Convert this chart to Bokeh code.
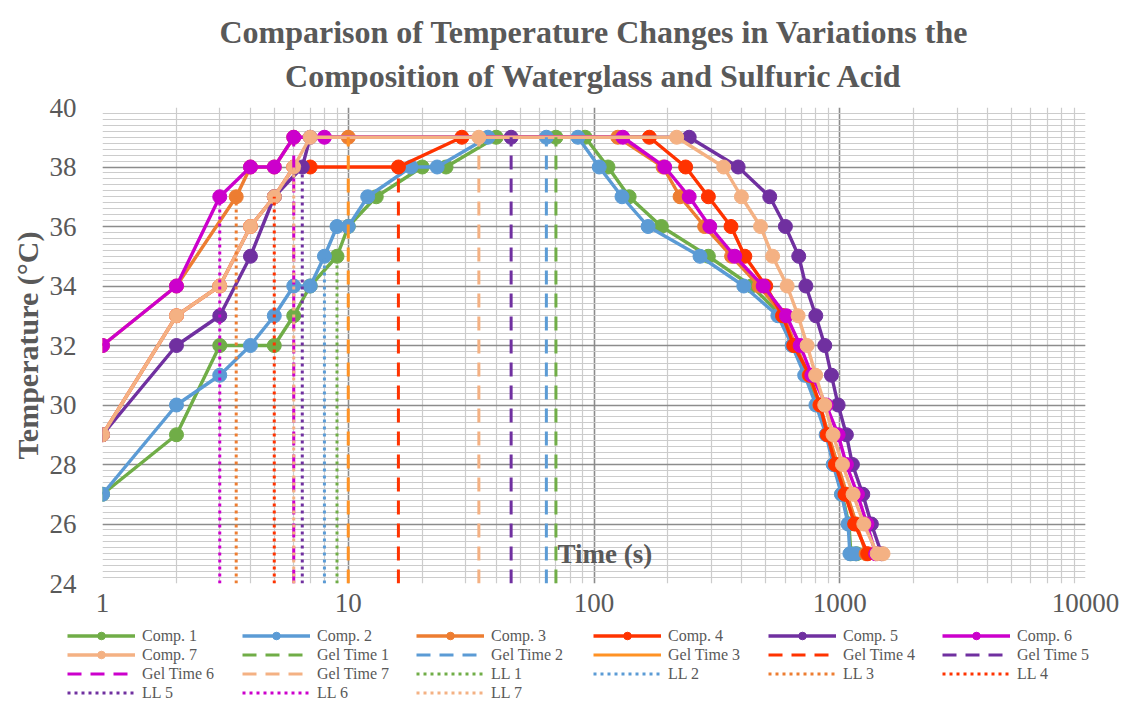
from bokeh.plotting import figure
from bokeh.models import FixedTicker, Legend, LegendItem, Label, Title, PrintfTickFormatter
from bokeh.embed import file_html
from bokeh.resources import INLINE

# ---------------- data ----------------
comp_names = ["Comp. 1", "Comp. 2", "Comp. 3", "Comp. 4", "Comp. 5", "Comp. 6", "Comp. 7"]

comp1_t = [1, 2, 3, 5, 6, 7, 9, 10, 13, 20, 25, 40, 70, 92, 114, 139, 188, 292, 437, 580, 660, 740, 820, 890, 950, 1020, 1090, 1110, 1170]
comp1_T = [27, 29, 32, 32, 33, 34, 35, 36, 37, 38, 38, 39, 39, 39, 38, 37, 36, 35, 34, 33, 32, 31, 30, 29, 28, 27, 26, 25, 25]

comp2_t = [1, 2, 3, 4, 5, 6, 7, 8, 9, 10, 12, 18, 23, 37, 64, 86, 105, 130, 166, 270, 407, 560, 640, 720, 800, 880, 940, 1016, 1081, 1100, 1160]
comp2_T = [27, 30, 31, 32, 33, 34, 34, 35, 36, 36, 37, 38, 38, 39, 39, 39, 38, 37, 36, 35, 34, 33, 32, 31, 30, 29, 28, 27, 26, 25, 25]

comp3_t = [1, 2, 3.5, 4, 5, 6, 10, 125, 191, 224, 282, 363, 470, 590, 660, 750, 830, 900, 980, 1070, 1170, 1280]
comp3_T = [32, 34, 37, 38, 38, 39, 39, 39, 38, 37, 36, 35, 34, 33, 32, 31, 30, 29, 28, 27, 26, 25]

comp4_t = [1, 2, 3, 4, 5, 6, 7, 16, 29, 168, 236, 292, 361, 411, 500, 585, 650, 754, 832, 889, 960, 1050, 1150, 1300]
comp4_T = [29, 33, 34, 36, 37, 38, 38, 38, 39, 39, 38, 37, 36, 35, 34, 33, 32, 31, 30, 29, 28, 27, 26, 25]

comp5_t = [1, 2, 3, 4, 5, 6.5, 7, 46, 244, 386, 519, 601, 681, 728, 799, 869, 925, 985, 1064, 1126, 1241, 1345, 1480]
comp5_T = [29, 32, 33, 35, 37, 38, 39, 39, 39, 38, 37, 36, 35, 34, 33, 32, 31, 30, 29, 28, 27, 26, 25]

comp6_t = [1, 2, 3, 4, 5, 6, 8, 131, 194, 244, 296, 374, 488, 607, 690, 770, 880, 985, 1064, 1180, 1290, 1400]
comp6_T = [32, 34, 37, 38, 38, 39, 39, 39, 38, 37, 36, 35, 34, 33, 32, 31, 30, 29, 28, 27, 26, 25]

comp7_t = [1, 2, 3, 4, 5, 6, 7, 34, 217, 337, 398, 476, 533, 611, 677, 737, 798, 869, 939, 1026, 1133, 1253, 1420, 1500]
comp7_T = [29, 33, 34, 36, 37, 38, 39, 39, 39, 38, 37, 36, 35, 34, 33, 32, 31, 30, 29, 28, 27, 26, 25, 25]

comp_t = [comp1_t, comp2_t, comp3_t, comp4_t, comp5_t, comp6_t, comp7_t]
comp_T = [comp1_T, comp2_T, comp3_T, comp4_T, comp5_T, comp6_T, comp7_T]

gel_names = ["Gel Time 1", "Gel Time 2", "Gel Time 3", "Gel Time 4", "Gel Time 5", "Gel Time 6", "Gel Time 7"]
gel_time = [70, 64, 10, 16, 46, 6, 34]
gel_top = [39, 39, 39, 38, 39, 39, 39]

ll_names = ["LL 1", "LL 2", "LL 3", "LL 4", "LL 5", "LL 6", "LL 7"]
ll_time = [9, 8, 3.5, 5, 6.5, 3, 6]
ll_top = [35, 35, 37, 37, 38, 37, 38]

x_ticks = [1, 10, 100, 1000, 10000]
y_ticks = [24, 26, 28, 30, 32, 34, 36, 38, 40]
y_min, y_max = 24, 40

title_lines = ["Comparison of Temperature Changes in Variations the",
               "Composition of Waterglass and Sulfuric Acid"]
x_title = "Time (s)"
y_title = "Temperature (°C)"

# ---------------- styles ----------------
comp_colors = ["#70AD47", "#5B9BD5", "#ED7D31", "#FF3300", "#7030A0", "#CC00CC", "#F4B183"]
gel_colors = ["#70AD47", "#5B9BD5", "#FF9224", "#FF3300", "#7030A0", "#CC00CC", "#F4B183"]
ll_colors = ["#70AD47", "#5B9BD5", "#ED7D31", "#FF3300", "#7030A0", "#CC00CC", "#F4B183"]
TEXT = "#595959"
SERIF = "Liberation Serif"
W = 1133
MAIN_H = 624
LEG_H = 704 - MAIN_H
GEL_DASH = "14 9"
LL_DASH = "3 4"


def draw_series(fig):
    """Draw all series on a figure; returns legend items in series order."""
    comp_items, gel_items, ll_items = [], [], []
    for name, t, T, c in zip(comp_names, comp_t, comp_T, comp_colors):
        rl = fig.line(t, T, line_color=c, line_width=3.4)
        rs = fig.scatter(t, T, size=14, fill_color=c, line_color=c, line_width=1)
        comp_items.append(LegendItem(label=name, renderers=[rl, rs]))
    for i, (name, g, top, c) in enumerate(zip(gel_names, gel_time, gel_top, gel_colors)):
        r = fig.line([g, g], [y_min, top], line_color=c, line_width=3, line_dash=GEL_DASH)
        if i == 2:
            # this series' legend key is a solid line
            r_key = fig.line([g, g], [y_min, top], line_color=c, line_width=3, line_alpha=0)
            gel_items.append((name, r, r_key))
        else:
            gel_items.append((name, r, None))
    for name, t, top, c in zip(ll_names, ll_time, ll_top, ll_colors):
        r = fig.line([t, t], [y_min, top], line_color=c, line_width=3, line_dash=LL_DASH)
        ll_items.append(LegendItem(label=name, renderers=[r]))
    return comp_items, gel_items, ll_items


# ---------------- main chart ----------------
p = figure(width=W, height=MAIN_H, x_axis_type="log", x_range=(x_ticks[0], x_ticks[-1]),
           y_range=(y_min, y_max), output_backend="svg", toolbar_location=None,
           min_border_left=102, min_border_right=48, min_border_top=107, min_border_bottom=41)
p.title.visible = False
p.outline_line_color = None
p.background_fill_color = "white"
p.border_fill_color = "white"

x_minor = [m * 10 ** e for e in range(4) for m in range(2, 10)]
y_minor = [round(y_min + 0.2 * i, 1) for i in range(int((y_max - y_min) / 0.2) + 1)]

p.xgrid.ticker = FixedTicker(ticks=x_ticks, minor_ticks=x_minor)
p.ygrid.ticker = FixedTicker(ticks=y_ticks, minor_ticks=y_minor)
for g in (p.xgrid, p.ygrid):
    g.grid_line_color = "#8C8C8C"
    g.grid_line_width = 1.6
    g.minor_grid_line_color = "#CCCCCC"
    g.minor_grid_line_width = 1.2

p.xaxis.ticker = FixedTicker(ticks=x_ticks)
p.xaxis.formatter = PrintfTickFormatter(format="%d")
p.yaxis.ticker = FixedTicker(ticks=y_ticks)
for ax in (p.xaxis, p.yaxis):
    ax.axis_line_color = None
    ax.major_tick_line_color = None
    ax.minor_tick_line_color = None
    ax.major_tick_out = 0
    ax.major_label_text_font = SERIF
    ax.major_label_text_font_size = "27px"
    ax.major_label_text_color = TEXT
p.xaxis.major_label_standoff = 10
p.yaxis.major_label_standoff = 26
p.yaxis.axis_label = y_title
p.yaxis.axis_label_text_font = SERIF
p.yaxis.axis_label_text_font_size = "30px"
p.yaxis.axis_label_text_font_style = "bold"
p.yaxis.axis_label_text_color = TEXT
p.yaxis.axis_label_standoff = 3

# title (second line added first so that it sits closest to the plot)
p.add_layout(Title(text=title_lines[1], align="center", text_font=SERIF, text_font_style="bold",
                   text_font_size="32px", text_color=TEXT, standoff=28), "above")
p.add_layout(Title(text=title_lines[0], align="center", text_font=SERIF, text_font_style="bold",
                   text_font_size="32px", text_color=TEXT, standoff=-17), "above")

draw_series(p)

p.add_layout(Label(x=71, y=25.0, text=x_title, text_align="left", text_baseline="middle",
                   text_font=SERIF, text_font_style="bold", text_font_size="27px",
                   text_color=TEXT))

# ---------------- legend strip below the chart ----------------
# same series drawn again, but outside this strip's visible ranges: only the keys show
lg = figure(width=W, height=LEG_H, x_range=(-2, -1), y_range=(-2, -1), output_backend="svg",
            toolbar_location=None, min_border=0)
lg.title.visible = False
lg.axis.visible = False
lg.grid.visible = False
lg.outline_line_color = None

c_items, g_raw, l_items = draw_series(lg)
g_items = []
for name, r, r_key in g_raw:
    if r_key is not None:
        r_key.glyph.line_alpha = 1
        g_items.append(LegendItem(label=name, renderers=[r_key]))
    else:
        g_items.append(LegendItem(label=name, renderers=[r]))

all_items = c_items + g_items + l_items
ncols = 6
col_x = [67, 242, 416, 593, 768, 942]
row_h = 19
top_pad = 2
for ci in range(ncols):
    items = all_items[ci::ncols]
    n = len(items)
    leg = Legend(items=items, location=(col_x[ci], LEG_H - top_pad - n * row_h),
                 orientation="vertical", glyph_width=68, glyph_height=row_h,
                 label_height=row_h, label_standoff=7, spacing=0, padding=0, margin=0,
                 border_line_color=None, background_fill_alpha=0,
                 label_text_font=SERIF, label_text_font_size="16px",
                 label_text_color=TEXT)
    lg.add_layout(leg, "center")

open("out.html", "w").write(file_html([p, lg], INLINE))
